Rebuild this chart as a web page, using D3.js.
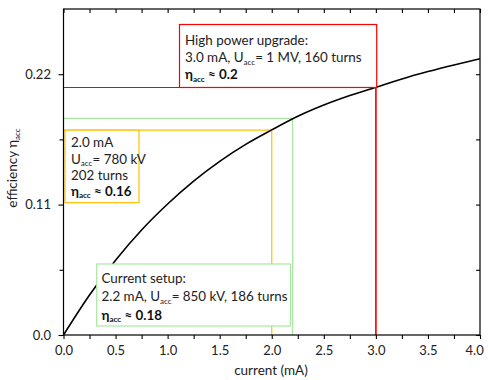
<!DOCTYPE html>
<html><head><meta charset="utf-8">
<script src="https://cdn.jsdelivr.net/npm/d3@7"></script>
<style>body{margin:0;background:#fff}svg{display:block}text{font-family:Lato,"Liberation Sans",sans-serif}</style>
</head><body><div id="chart"></div>
<script>
// curve: efficiency vs current
const currentMA = [0,0.25,0.5,0.75,1.0,1.25,1.5,1.75,2.0,2.25,2.5,2.75,3.0,3.25,3.5,3.75,4.0];
const efficiency = [0,0.0337,0.0631,0.0886,0.1105,0.1298,0.1465,0.1608,0.1730,0.1845,0.1940,0.2020,0.2090,0.2160,0.2222,0.2278,0.2330];
// scenarios
const scenarioNames = ["High power upgrade","Current setup","Alternative"];
const scenarioCurrent = [3.0, 2.2, 2.0];
const scenarioEta = [0.2088, 0.1827, 0.1728];
const scenarioColors = ["#ff0000","#a8e8a0","#ffc000"];
// ticks
const xTicks = [0,0.5,1.0,1.5,2.0,2.5,3.0,3.5,4.0];
const xTickLabels = ["0.0","0.5","1.0","1.5","2.0","2.5","3.0","3.5","4.0"];
const xMinor = [0.25,0.75,1.25,1.75,2.25,2.75,3.25,3.75];
const yTicks = [0,0.11,0.22];
const yTickLabels = ["0.0","0.11","0.22"];
const yMinor = [0.055,0.165];

const W=488,H=380;
const L=63.5,R=480,T=9,B=335;
const svg=d3.select("#chart").append("svg").attr("width",W).attr("height",H);
const x=d3.scaleLinear().domain([0,4]).range([L,R]);
const y=d3.scaleLinear().domain([0,0.275]).range([B,T]);

// annotation lines
const g=svg.append("g");
scenarioCurrent.forEach((c,i)=>{
  g.append("path").attr("fill","none").attr("stroke",scenarioColors[i]).attr("stroke-width",1.2)
   .attr("d",`M${L},${y(scenarioEta[i])}H${x(c)}V${B}`);
});

// curve
const line=d3.line().x((d,i)=>x(currentMA[i])).y(d=>y(d)).curve(d3.curveMonotoneX);
svg.append("path").datum(efficiency).attr("d",line).attr("fill","none").attr("stroke","#000").attr("stroke-width",1.6);

// text boxes
function box(x0,y0,x1,y1,color){
  svg.append("rect").attr("x",x0).attr("y",y0).attr("width",x1-x0).attr("height",y1-y0)
   .attr("fill","#fff").attr("stroke",color).attr("stroke-width",1.2);
}
const fs=13.4;
function plain(t,xx,yy){return svg.append("text").attr("x",xx).attr("y",yy).attr("font-size",fs).attr("fill","#222").text(t);}
function txt(xx,yy,fill){return svg.append("text").attr("x",xx).attr("y",yy).attr("font-size",fs).attr("fill",fill||"#222");}
function addSub(t,base,sub,rest,bold){
  t.append("tspan").text(base);
  t.append("tspan").attr("font-size",fs*0.6).attr("dy",2.5).text(sub);
  t.append("tspan").attr("dy",-2.5).text(rest);
  if(bold) t.attr("font-weight","bold");
  return t;
}
// red box
box(179.5,24.5,376.7,y(scenarioEta[0]),scenarioColors[0]);
svg.append("path").attr("fill","none").attr("stroke",scenarioColors[0]).attr("stroke-width",1.2)
  .attr("d",`M${L},${y(scenarioEta[0])}H${x(3.0)}V${B}`);
plain("High power upgrade:",185,45);
addSub(txt(185,62),"3.0 mA, U","acc","= 1 MV, 160 turns");
addSub(txt(185,79,"#111"),"η","acc"," ≈ 0.2",true);

// yellow box
box(65,y(scenarioEta[2]),139,202.7,scenarioColors[2]);
plain("2.0 mA",71,147);
addSub(txt(71,163.5),"U","acc","= 780 kV");
plain("202 turns",71,180);
addSub(txt(71,195.5,"#111"),"η","acc"," ≈ 0.16",true);

// green box
box(96.7,264,290.5,326,scenarioColors[1]);
plain("Current setup:",101.5,283);
addSub(txt(101.5,301),"2.2 mA, U","acc","= 850 kV, 186 turns");
addSub(txt(101.5,319.5,"#111"),"η","acc"," ≈ 0.18",true);

// frame
svg.append("rect").attr("x",L).attr("y",T).attr("width",R-L).attr("height",B-T).attr("fill","none").attr("stroke","#000").attr("stroke-width",1.2);

// axes
const xAx=d3.axisBottom(x).tickValues(xTicks).tickFormat((d,i)=>xTickLabels[i]).tickSize(4).tickSizeOuter(0);
const gx=svg.append("g").attr("transform",`translate(0,${B})`).call(xAx);
gx.select(".domain").remove();
gx.selectAll("text").attr("font-size",13).attr("fill","#222").attr("dy","1.0em");
gx.selectAll("text").filter((d,i)=>i===xTicks.length-1).attr("dx","-0.45em");
const gxm=svg.append("g").attr("transform",`translate(0,${B})`).call(d3.axisBottom(x).tickValues(xMinor).tickFormat("").tickSize(4));
gxm.select(".domain").remove();
const gxt=svg.append("g").attr("transform",`translate(0,${T})`).call(d3.axisBottom(x).tickValues(xTicks.concat(xMinor)).tickFormat("").tickSize(4));
gxt.select(".domain").remove();

const yAx=d3.axisLeft(y).tickValues(yTicks).tickFormat((d,i)=>yTickLabels[i]).tickSize(5).tickSizeOuter(0);
const gy=svg.append("g").attr("transform",`translate(${L},0)`).call(yAx);
gy.select(".domain").remove();
gy.selectAll("text").attr("font-size",13).attr("fill","#222").attr("dx","-0.35em");
const gym=svg.append("g").attr("transform",`translate(${L},0)`).call(d3.axisLeft(y).tickValues(yMinor).tickFormat("").tickSize(4));
gym.select(".domain").remove();
const gyr=svg.append("g").attr("transform",`translate(${R},0)`).call(d3.axisLeft(y).tickValues(yTicks.concat(yMinor)).tickFormat("").tickSize(4));
gyr.select(".domain").remove();
svg.selectAll(".tick line").attr("stroke","#000").attr("stroke-width",1.1);

// axis titles
svg.append("text").attr("x",271).attr("y",375).attr("text-anchor","middle").attr("font-size",13.5).attr("fill","#222").text("current (mA)");
const yl=svg.append("text").attr("transform","translate(17,168) rotate(-90)").attr("text-anchor","middle").attr("font-size",13.5).attr("fill","#222");
yl.append("tspan").text("efficiency η");
yl.append("tspan").attr("font-size",8).attr("dy",3).text("acc");
</script></body></html>
